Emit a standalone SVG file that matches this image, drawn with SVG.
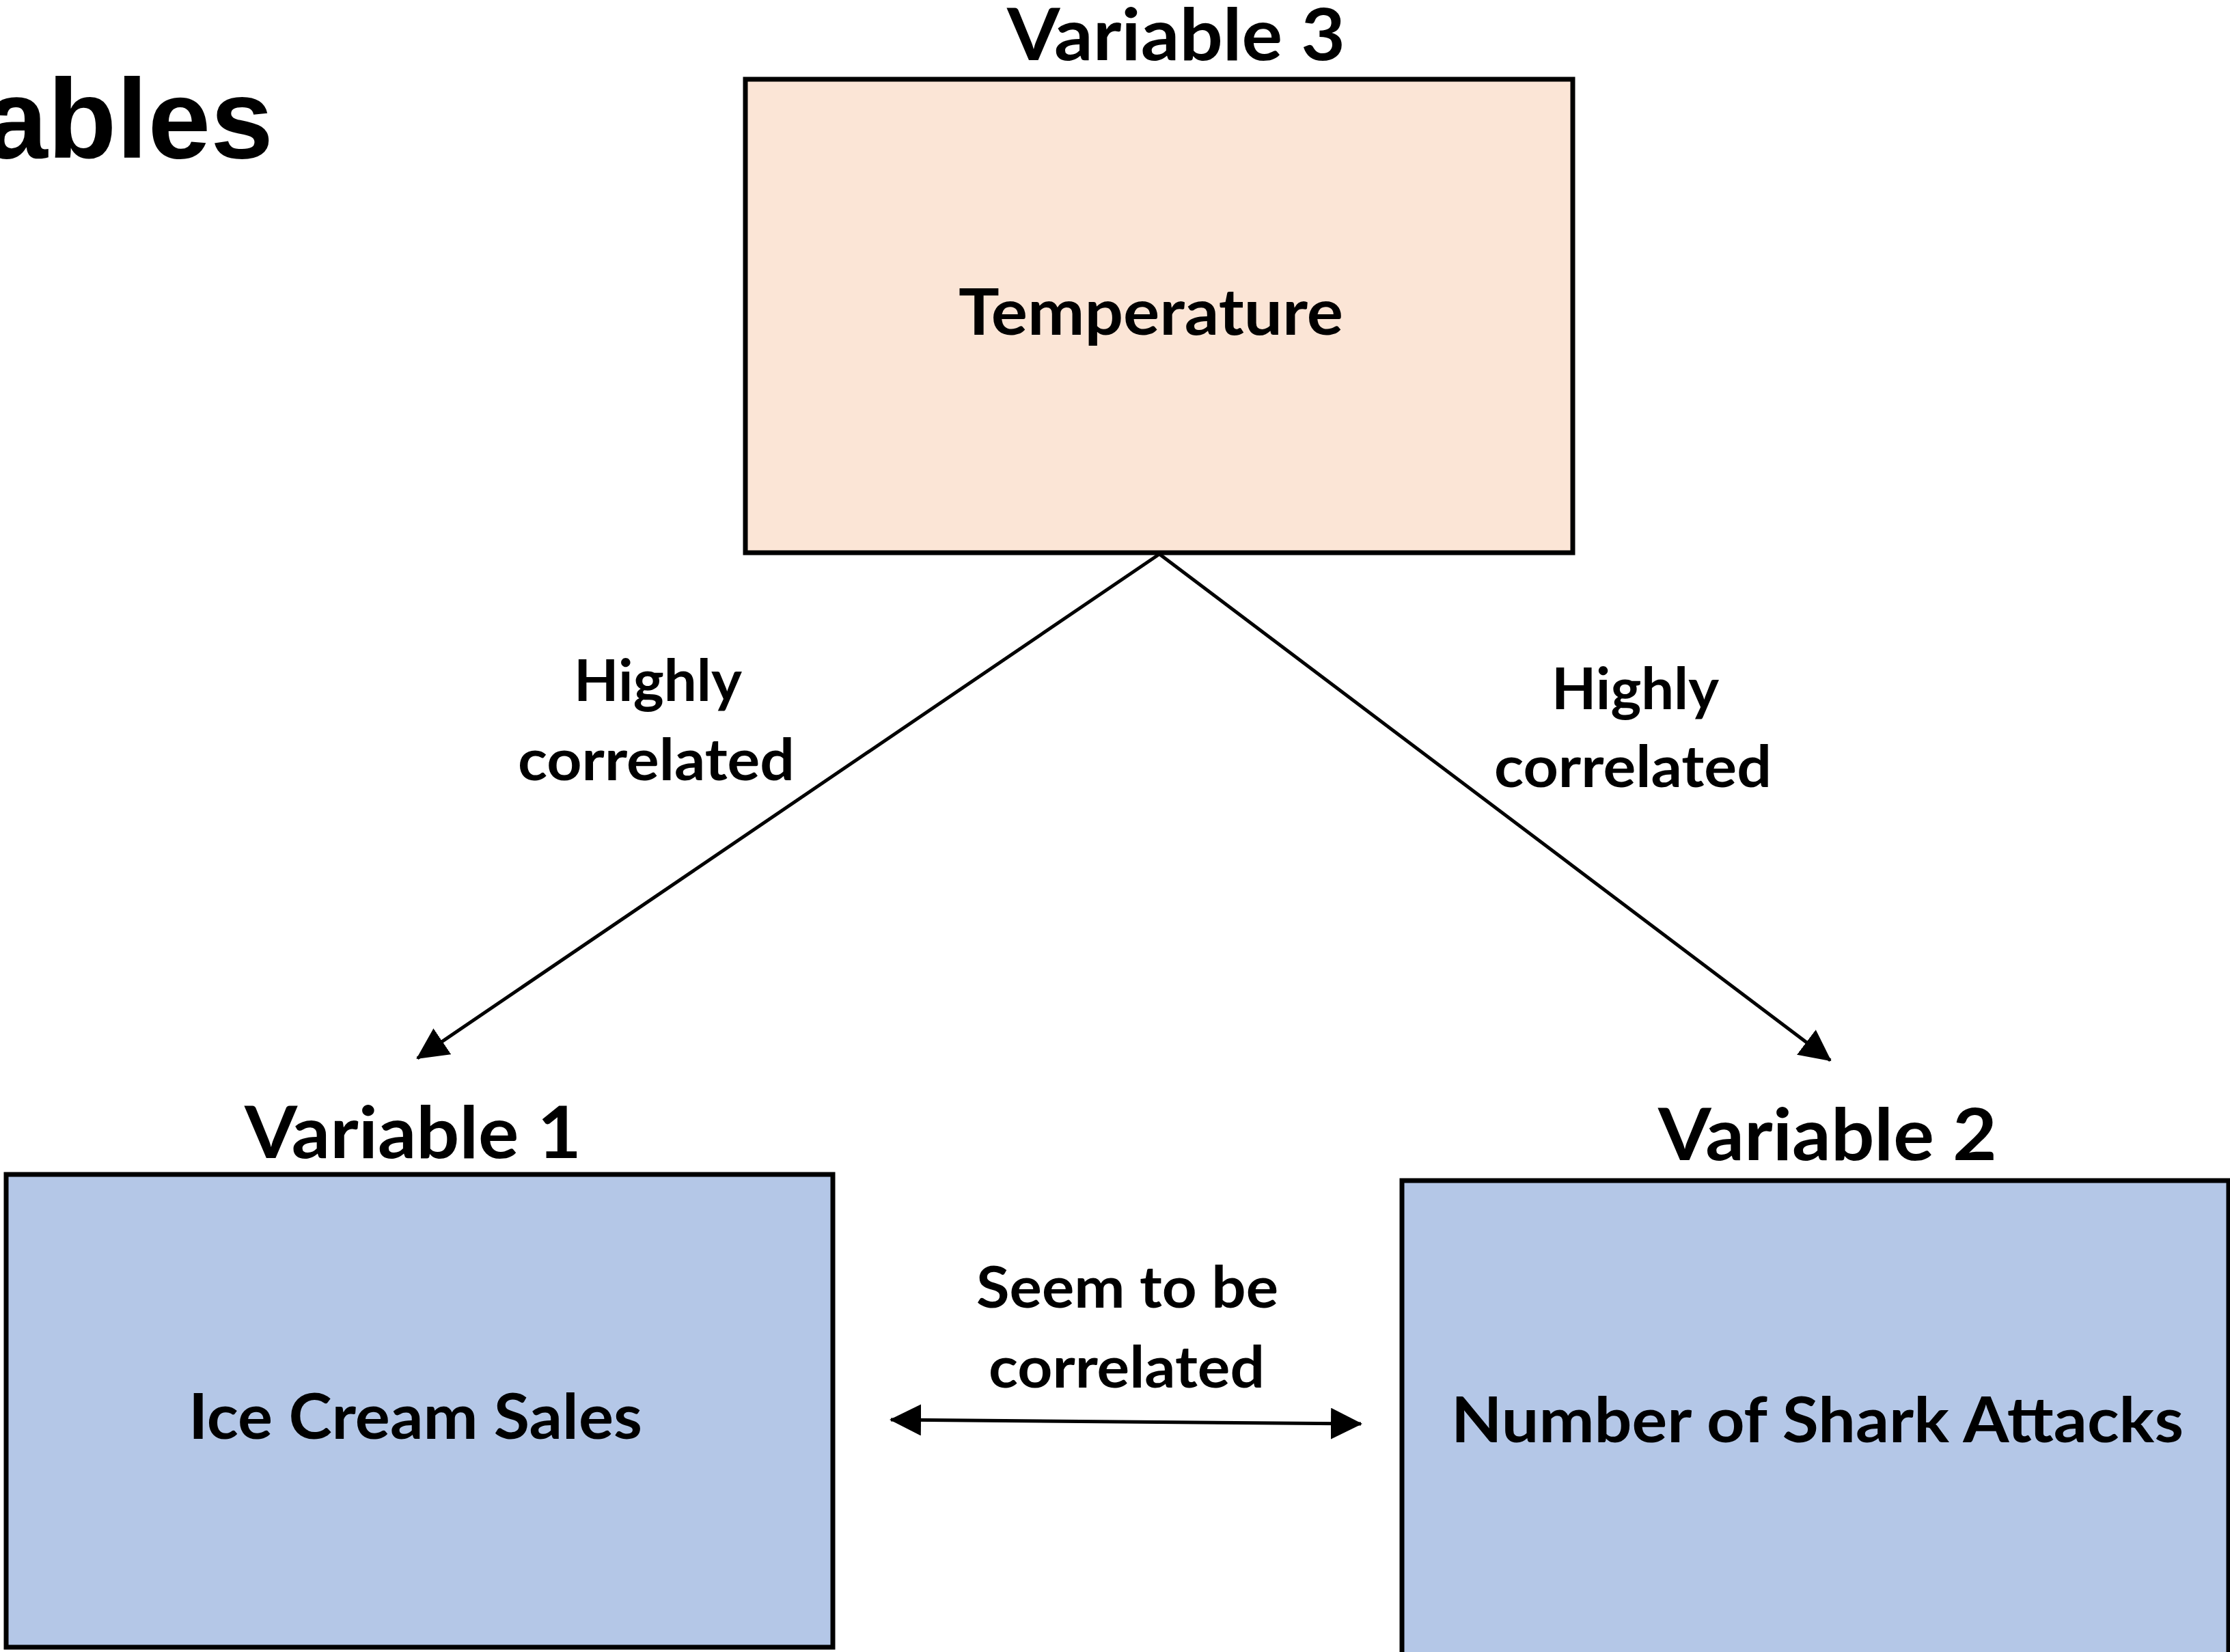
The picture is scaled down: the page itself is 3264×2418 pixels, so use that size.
<svg xmlns="http://www.w3.org/2000/svg" width="3264" height="2418" viewBox="0 0 3264 2418">
<defs>
<style>
.lbl{font-family:Lato,"Open Sans","Liberation Sans",sans-serif;font-weight:700;fill:#000}
.box{stroke:#000;stroke-width:7}
.conn{stroke:#000;stroke-width:5;fill:none}
</style>
<marker id="ah" viewBox="0 0 46 46" markerWidth="46" markerHeight="46" refX="44" refY="23" orient="auto-start-reverse" markerUnits="userSpaceOnUse">
<path d="M0,0 L46,23 L0,46 z" fill="#000"/>
</marker>
</defs>
<rect width="3264" height="2418" fill="#fff"/>
<text x="400" y="231" text-anchor="end" font-family="'Liberation Sans',Arial,sans-serif" font-weight="700" font-size="165">ables</text>
<g id="connectors">
<line class="conn" x1="1697" y1="811" x2="611" y2="1549" marker-end="url(#ah)"/>
<line class="conn" x1="1697" y1="811" x2="2679" y2="1552" marker-end="url(#ah)"/>
<line class="conn" x1="1304" y1="2078" x2="1992" y2="2084" marker-start="url(#ah)" marker-end="url(#ah)"/>
<text class="lbl" x="840" y="1026" font-size="84" textLength="246" lengthAdjust="spacingAndGlyphs">Highly</text>
<text class="lbl" x="758" y="1142" font-size="84" textLength="405" lengthAdjust="spacingAndGlyphs">correlated</text>
<text class="lbl" x="2271" y="1038" font-size="84" textLength="245" lengthAdjust="spacingAndGlyphs">Highly</text>
<text class="lbl" x="2187" y="1152" font-size="84" textLength="406" lengthAdjust="spacingAndGlyphs">correlated</text>
<text class="lbl" x="1429" y="1914" font-size="84" textLength="442" lengthAdjust="spacingAndGlyphs">Seem to be</text>
<text class="lbl" x="1447" y="2031" font-size="84" textLength="404" lengthAdjust="spacingAndGlyphs">correlated</text>
</g>
<g id="node-temperature">
<text class="lbl" x="1474" y="88" font-size="105" textLength="495" lengthAdjust="spacingAndGlyphs">Variable 3</text>
<rect class="box" x="1091" y="116" width="1211" height="693" fill="#FBE5D6"/>
<text class="lbl" x="1403" y="490" font-size="93" textLength="563" lengthAdjust="spacingAndGlyphs">Temperature</text>
</g>
<g id="node-icecream">
<text class="lbl" x="358" y="1695" font-size="105" textLength="493" lengthAdjust="spacingAndGlyphs">Variable 1</text>
<rect class="box" x="9" y="1719" width="1210" height="692" fill="#B4C7E7"/>
<text class="lbl" x="276" y="2106" font-size="92" textLength="664" lengthAdjust="spacingAndGlyphs">Ice Cream Sales</text>
</g>
<g id="node-shark">
<text class="lbl" x="2427" y="1698" font-size="105" textLength="496" lengthAdjust="spacingAndGlyphs">Variable 2</text>
<rect class="box" x="2052" y="1728" width="1210" height="694" fill="#B4C7E7"/>
<text class="lbl" x="2124" y="2111" font-size="92" textLength="1072" lengthAdjust="spacingAndGlyphs">Number of Shark Attacks</text>
</g>
</svg>
